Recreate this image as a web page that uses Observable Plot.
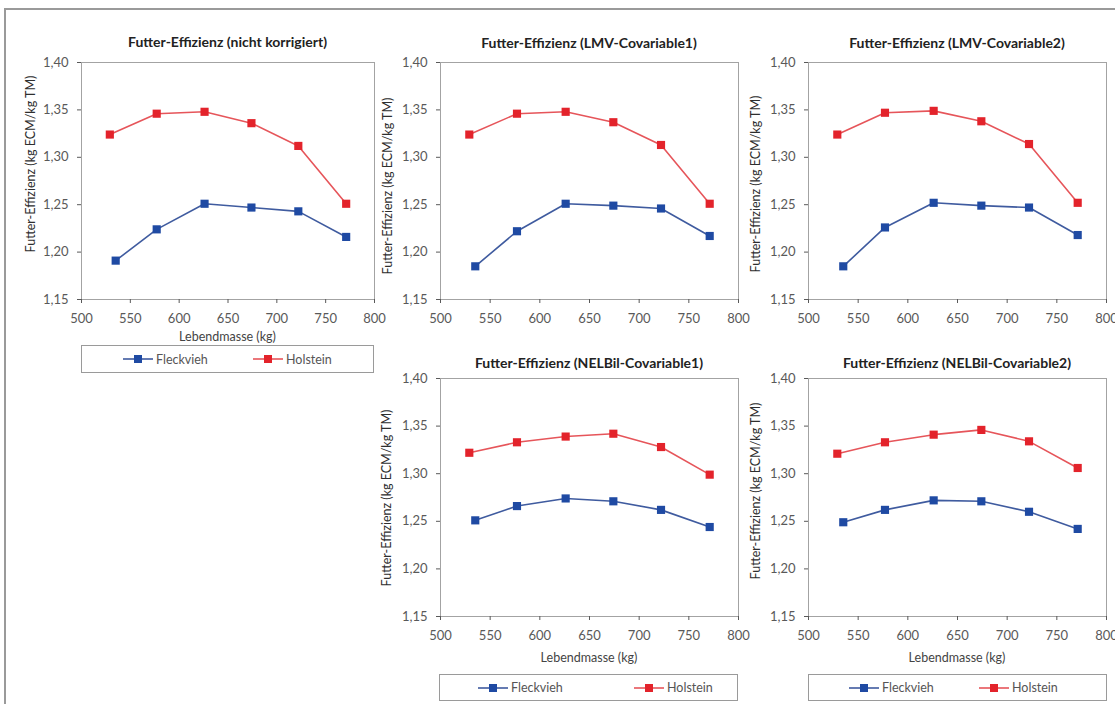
<!DOCTYPE html>
<html>
<head>
<meta charset="utf-8">
<script src="https://cdn.jsdelivr.net/npm/d3@7"></script>
<script src="https://cdn.jsdelivr.net/npm/@observablehq/plot@0.6"></script>
<style>
  html, body { margin: 0; padding: 0; background: #fff; }
  #chart { position: relative; width: 1115px; height: 704px; overflow: hidden; font-family: Lato, "Liberation Sans", sans-serif; }
  .outer { position: absolute; left: 4px; top: 8px; width: 1200px; height: 800px; border-top: 2px solid #9a9a9a; border-left: 2px solid #9a9a9a; }
  .panel-svg { position: absolute; }
  .title { position: absolute; font-weight: bold; font-size: 14px; color: #222; text-align: center; white-space: nowrap; line-height: 16px; }
  .ylab { position: absolute; font-size: 12.5px; color: #2e2e2e; white-space: nowrap; transform: translate(-50%, -50%) rotate(-90deg); }
  .xlab { position: absolute; font-size: 12.5px; color: #444; white-space: nowrap; transform: translate(-50%, -50%); }
  .legend { position: absolute; border: 1px solid #9a9a9a; box-sizing: border-box; font-size: 12.5px; color: #555; }
  .legend .item { position: absolute; top: 0; height: 100%; display: flex; align-items: center; }
  .legend svg { margin-right: 3px; }
</style>
</head>
<body>
<div id="chart"><div class="outer"></div></div>
<script>
// Live weight classes (kg) per breed
const xFleckvieh = [535, 577, 626, 674, 722, 771];
const xHolstein  = [529, 577, 626, 674, 722, 771];

// Feed efficiency (kg ECM / kg DM) for each evaluation
const fvUncorrected = [1.191, 1.224, 1.251, 1.247, 1.243, 1.216];
const hoUncorrected = [1.324, 1.346, 1.348, 1.336, 1.312, 1.251];
const fvLmv1 = [1.185, 1.222, 1.251, 1.249, 1.246, 1.217];
const hoLmv1 = [1.324, 1.346, 1.348, 1.337, 1.313, 1.251];
const fvLmv2 = [1.185, 1.226, 1.252, 1.249, 1.247, 1.218];
const hoLmv2 = [1.324, 1.347, 1.349, 1.338, 1.314, 1.252];
const fvNel1 = [1.251, 1.266, 1.274, 1.271, 1.262, 1.244];
const hoNel1 = [1.322, 1.333, 1.339, 1.342, 1.328, 1.299];
const fvNel2 = [1.249, 1.262, 1.272, 1.271, 1.260, 1.242];
const hoNel2 = [1.321, 1.333, 1.341, 1.346, 1.334, 1.306];

const seriesNames = ["Fleckvieh", "Holstein"];
const xTicks = [500, 550, 600, 650, 700, 750, 800];
const yTicks = [1.15, 1.20, 1.25, 1.30, 1.35, 1.40];
const xLabel = "Lebendmasse (kg)";
const yLabel = "Futter-Effizienz (kg ECM/kg TM)";

const lineColors = {Fleckvieh: "#3f5b9f", Holstein: "#e6555a"};
const markColors = {Fleckvieh: "#1f4aa3", Holstein: "#e3232b"};

const fmtComma = d => d.toFixed(2).replace(".", ",");

// Panel layout: plot area rectangle, label positions, optional legend box
const panels = [
  {title: "Futter-Effizienz (nicht korrigiert)", fv: fvUncorrected, ho: hoUncorrected,
   px: 81, py: 62, pw: 293, ph: 237, titleY: 42, yLabX: 30, yLabY: 164, xLabY: 336,
   legend: {x: 81, y: 345, w: 293, h: 28, a: 41, b: 171}},
  {title: "Futter-Effizienz (LMV-Covariable1)", fv: fvLmv1, ho: hoLmv1,
   px: 440, py: 62, pw: 298, ph: 237, titleY: 43, yLabX: 387, yLabY: 186},
  {title: "Futter-Effizienz (LMV-Covariable2)", fv: fvLmv2, ho: hoLmv2,
   px: 808, py: 62, pw: 298, ph: 237, titleY: 43, yLabX: 755, yLabY: 184},
  {title: "Futter-Effizienz (NELBil-Covariable1)", fv: fvNel1, ho: hoNel1,
   px: 440, py: 378, pw: 298, ph: 238, titleY: 363, yLabX: 386, yLabY: 498, xLabY: 657,
   legend: {x: 439, y: 674, w: 299, h: 27, a: 38, b: 194}},
  {title: "Futter-Effizienz (NELBil-Covariable2)", fv: fvNel2, ho: hoNel2,
   px: 808, py: 378, pw: 298, ph: 238, titleY: 363, yLabX: 755, yLabY: 491, xLabY: 657,
   legend: {x: 808, y: 674, w: 299, h: 27, a: 40, b: 170}}
];

const chart = document.getElementById("chart");
const mL = 46, mR = 8, mT = 8, mB = 30;

function swatch(name) {
  return `<svg width="30" height="10"><line x1="0" y1="5" x2="30" y2="5" stroke="${lineColors[name]}" stroke-width="1.6"/>` +
         `<rect x="11" y="1" width="8" height="8" fill="${markColors[name]}"/></svg>`;
}

for (const p of panels) {
  const rows = [
    ...p.fv.map((v, i) => ({series: "Fleckvieh", x: xFleckvieh[i], y: v})),
    ...p.ho.map((v, i) => ({series: "Holstein", x: xHolstein[i], y: v}))
  ];
  const marks = [
    Plot.frame({stroke: "#a3a3a3", strokeWidth: 1}),
    Plot.axisX({ticks: xTicks, tickFormat: d => String(d), tickSize: 4, tickPadding: 10, label: null}),
    Plot.axisY({ticks: yTicks, tickFormat: fmtComma, tickSize: 4, tickPadding: 9, label: null})
  ];
  for (const s of seriesNames) {
    const data = rows.filter(r => r.series === s);
    marks.push(Plot.line(data, {x: "x", y: "y", stroke: lineColors[s], strokeWidth: 1.6}));
    marks.push(Plot.dot(data, {x: "x", y: "y", symbol: "square", r: 4.6, fill: markColors[s], stroke: "none"}));
  }
  const svg = Plot.plot({
    width: p.pw + mL + mR,
    height: p.ph + mT + mB,
    marginLeft: mL, marginRight: mR, marginTop: mT, marginBottom: mB,
    x: {domain: [500, 800]},
    y: {domain: [1.15, 1.40]},
    style: {fontFamily: "Lato, 'Liberation Sans', sans-serif", fontSize: "13px", color: "#595959", background: "transparent", overflow: "visible"},
    marks
  });
  svg.classList.add("panel-svg");
  svg.style.left = (p.px - mL) + "px";
  svg.style.top = (p.py - mT) + "px";
  chart.appendChild(svg);

  const t = document.createElement("div");
  t.className = "title";
  t.textContent = p.title;
  t.style.left = (p.px - 40) + "px";
  t.style.width = (p.pw + 80) + "px";
  t.style.top = (p.titleY - 8) + "px";
  chart.appendChild(t);

  const yl = document.createElement("div");
  yl.className = "ylab";
  yl.textContent = yLabel;
  yl.style.left = p.yLabX + "px";
  yl.style.top = p.yLabY + "px";
  chart.appendChild(yl);

  if (p.xLabY) {
    const xl = document.createElement("div");
    xl.className = "xlab";
    xl.textContent = xLabel;
    xl.style.left = (p.px + p.pw / 2) + "px";
    xl.style.top = p.xLabY + "px";
    chart.appendChild(xl);
  }

  if (p.legend) {
    const L = p.legend;
    const lg = document.createElement("div");
    lg.className = "legend";
    lg.style.left = L.x + "px";
    lg.style.top = L.y + "px";
    lg.style.width = L.w + "px";
    lg.style.height = L.h + "px";
    lg.innerHTML = `<div class="item" style="left:${L.a}px">${swatch("Fleckvieh")}${seriesNames[0]}</div>` +
                   `<div class="item" style="left:${L.b}px">${swatch("Holstein")}${seriesNames[1]}</div>`;
    chart.appendChild(lg);
  }
}
</script>
</body>
</html>
